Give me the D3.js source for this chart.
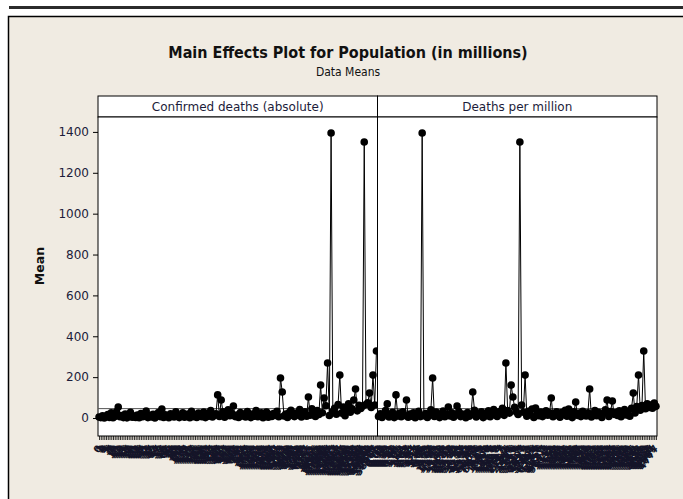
<!DOCTYPE html>
<html>
<head>
<meta charset="utf-8">
<script src="https://cdn.jsdelivr.net/npm/d3@7"></script>
<style>
body { margin: 0; background: #fff; }
svg { display: block; }
</style>
</head>
<body>
<svg id="chart" width="683" height="499"></svg>
<script>
// levels of each factor (x tick labels) and the mean population at each level
var deathLevels = [
  0,1,2,3,4,5,6,7,8,9,
  10,11,12,13,14,15,16,17,18,19,
  20,21,23,24,26,27,29,31,33,35,
  37,39,42,44,47,50,53,56,59,62,
  66,70,74,78,83,88,93,98,104,110,
  117,124,131,139,147,156,165,175,185,196,
  208,220,233,247,262,277,293,310,328,347,
  368,390,413,437,463,490,519,550,582,616,
  652,690,731,774,819,867,918,972,1029,1089,
  1153,1221,1293,1369,1449,1534,1624,1719,1820,1927,
  2040,2160,2287,2421,2563,2713,2872,3041,3219,3408,
  3608,3820,4044,4281,4532,4798,5080,5378,5693,6027,
  6381,6755,7151,7571,8015,8485,8983,9510,10068,10659,
  11284,11946,12647,13389,14175,15007,15887,16819,17806,18851,
  19957,21128,22368,23680,25070,26541,28098,29747,31492,33340,
  35296,37367,39560,41881,44338,46940,49694,52610,55697,58965
];
var deathMeans = [
  5,2,11,0.4,9,17,3,25,1,8,31,54,6,12,2,19,0.9,7,28,4,
  10,3,15,1.3,22,6,9,34,2,13,5,18,0.6,11,27,7,44,3,16,9,
  1.9,21,12,5,30,8,2,14,26,4,10,19,1.1,33,7,15,3,24,11,6,
  29,2,17,9,36,5,13,21,113,8,88,31,4,16,40,11,23,59,7,14,
  3,27,10,18,5,32,12,2,20,9,37,6,15,25,1.5,11,29,4,17,8,
  22,13,33,6,196,127,10,19,3,27,38,12,7,24,15,41,5,18,30,9,
  103,14,45,21,8,36,17,161,26,98,60,269,12,1395,31,48,19,66,210,24,
  54,11,39,70,28,45,88,142,35,62,47,58,1351,66,75,122,52,210,64,328
];
var perMillionLevels = [
  0.00,0.03,0.08,0.12,0.19,0.25,0.34,0.41,0.52,0.66,
  0.78,0.91,1.05,1.22,1.40,1.61,1.83,2.07,2.35,2.64,
  2.97,3.31,3.70,4.12,4.58,5.06,5.61,6.19,6.83,7.52,
  8.27,9.08,9.95,10.89,11.91,13.00,14.18,15.44,16.80,18.25,
  19.81,21.48,23.27,25.19,27.24,29.44,31.79,34.31,37.00,39.88,
  42.95,46.23,49.74,53.48,57.48,61.74,66.30,71.16,76.35,81.89,
  87.80,94.10,100.8,108.0,115.7,123.9,132.6,141.9,151.8,162.4,
  173.7,185.7,198.5,212.1,226.6,242.0,258.5,276.0,294.6,314.4,
  335.5,357.9,381.7,407.0,433.9,462.5,492.9,525.2,559.5,596.0,
  634.7,675.9,719.6,766.0,815.3,867.7,923.3,982.4,1045,1112,
  1130,1151,1178,1204,1233,1260,1291,1322,1356,1389,
  1421,1458,1495,1530,1568,1607,1649,1690,1733,1778,
  1822,1869,1915,1964,2012,2063,2115,2168,2222,2278,
  2335,2393,2453,2514,2577,2642,2708,2775,2845,2916,
  2989,3063,3140,3218,3299,3381,3466,3552,3641,3732,
  3825,3921,4019,4119,4222,4328,4436,4547,4661,4777
];
var perMillionMeans = [
  8,21,3,14,36,69,5,17,28,2,113,10,24,6,31,12,88,4,19,9,
  26,1.2,15,33,7,1395,11,22,3,16,40,196,8,29,13,2,21,34,6,18,
  54,10,25,4,15,59,32,7,20,12,1.6,27,9,17,127,38,5,23,14,30,
  2,19,11,35,6,26,42,15,8,31,21,48,13,269,37,24,161,103,52,30,
  17,1351,64,28,210,9,33,16,44,3,49,22,11,29,7,18,35,14,25,98,
  6,20,31,12,4,27,16,38,9,44,21,2,30,78,13,24,7,33,17,10,
  26,142,5,19,36,11,28,14,3,23,40,88,8,32,83,18,27,12,35,6,
  22,41,15,30,9,48,122,25,56,210,38,61,328,45,70,52,63,48,73,57
];
var panelNames = ["Confirmed deaths (absolute)", "Deaths per million"];
var yTicks = [0, 200, 400, 600, 800, 1000, 1200, 1400];
var grandMean = 46;

var panels = [
  {name: panelNames[0], levels: deathLevels, means: deathMeans},
  {name: panelNames[1], levels: perMillionLevels, means: perMillionMeans}
];

var plotLeft = 98, plotRight = 657, stripTop = 96, plotTop = 117, plotBottom = 436;
var panelW = (plotRight - plotLeft) / panels.length;
var txtColor = "#1c1c3a";

var svg = d3.select("#chart");

// page decoration
svg.append("rect").attr("x", 9).attr("y", 6).attr("width", 680).attr("height", 3).attr("fill", "#2b2b2b");
svg.append("rect").attr("x", 8.5).attr("y", 16.5).attr("width", 700).attr("height", 500)
  .attr("fill", "#f0ebe2").attr("stroke", "#000").attr("stroke-width", 1.5);

// titles
svg.append("text").attr("x", 348).attr("y", 58).attr("text-anchor", "middle")
  .attr("font-family", "DejaVu Sans Condensed, DejaVu Sans").attr("font-stretch", "condensed")
  .attr("font-weight", "bold").attr("font-size", 16).attr("fill", "#111")
  .text("Main Effects Plot for Population (in millions)");
svg.append("text").attr("x", 348).attr("y", 76).attr("text-anchor", "middle")
  .attr("font-family", "DejaVu Sans Condensed, DejaVu Sans").attr("font-stretch", "condensed")
  .attr("font-size", 12).attr("fill", "#111").text("Data Means");

var y = d3.scaleLinear().domain([-88, 1473]).range([plotBottom, plotTop]);

// y axis
var yAxis = svg.append("g").attr("transform", "translate(" + plotLeft + ",0)")
  .call(d3.axisLeft(y).tickValues(yTicks).tickFormat(d3.format("d")).tickSize(5).tickPadding(4));
yAxis.select(".domain").remove();
yAxis.selectAll("text").attr("font-family", "DejaVu Sans").attr("font-size", 12).attr("fill", txtColor);
yAxis.selectAll("line").attr("stroke", "#000");

svg.append("text").attr("transform", "translate(44,266) rotate(-90)")
  .attr("text-anchor", "middle").attr("font-family", "DejaVu Sans").attr("font-weight", "bold")
  .attr("font-size", 12.5).attr("fill", "#111").text("Mean");

panels.forEach(function (p, k) {
  var x0 = plotLeft + k * panelW, x1 = x0 + panelW;
  var x = d3.scalePoint().domain(d3.range(p.levels.length)).range([x0, x1]).padding(0.6);

  // strip
  svg.append("rect").attr("x", x0).attr("y", stripTop).attr("width", panelW).attr("height", plotTop - stripTop)
    .attr("fill", "#fff").attr("stroke", "#000");
  svg.append("text").attr("x", (x0 + x1) / 2).attr("y", stripTop + 15).attr("text-anchor", "middle")
    .attr("font-family", "DejaVu Sans").attr("font-size", 12).attr("fill", txtColor).text(p.name);

  // plot area
  svg.append("rect").attr("x", x0).attr("y", plotTop).attr("width", panelW).attr("height", plotBottom - plotTop)
    .attr("fill", "#fff").attr("stroke", "#000");

  // grand mean reference line
  svg.append("line").attr("x1", x0).attr("x2", x1).attr("y1", y(grandMean)).attr("y2", y(grandMean))
    .attr("stroke", "#555").attr("stroke-width", 1);

  // x axis with crowded rotated labels
  var xAxis = svg.append("g").attr("transform", "translate(0," + plotBottom + ")")
    .call(d3.axisBottom(x).tickSize(4).tickSizeOuter(0).tickFormat(function (i) { return String(p.levels[i]); }));
  xAxis.select(".domain").remove();
  xAxis.selectAll("line").attr("stroke", "#000").attr("stroke-width", 0.8);
  xAxis.selectAll("text")
    .attr("x", 0).attr("y", 0).attr("dy", "0.35em")
    .attr("transform", "translate(0,10) rotate(-55)")
    .style("text-anchor", "end")
    .attr("font-family", "DejaVu Sans").attr("font-weight", "bold")
    .attr("font-size", 10).attr("fill", "#141428");

  // means line and points
  var line = d3.line().x(function (d, i) { return x(i); }).y(function (d) { return y(d); });
  svg.append("path").datum(p.means).attr("d", line)
    .attr("fill", "none").attr("stroke", "#000").attr("stroke-width", 1);
  svg.append("g").selectAll("circle").data(p.means).enter().append("circle")
    .attr("cx", function (d, i) { return x(i); })
    .attr("cy", function (d) { return y(d); })
    .attr("r", 3.8).attr("fill", "#000");
});
</script>
</body>
</html>
